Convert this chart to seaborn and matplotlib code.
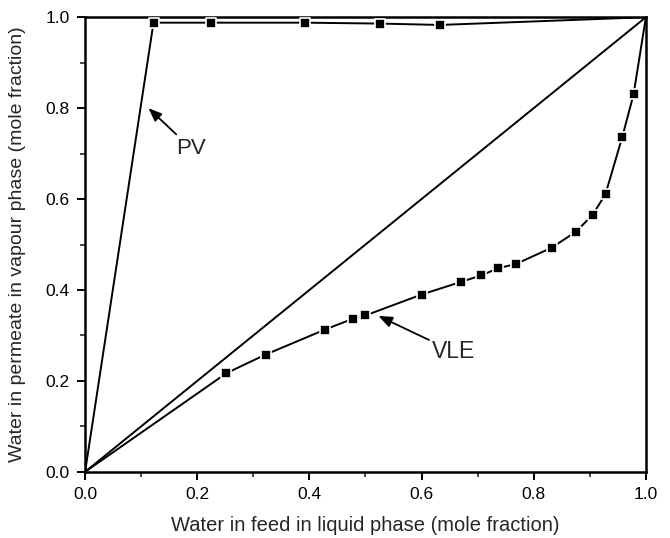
import matplotlib
matplotlib.use("Agg")
import matplotlib.pyplot as plt
import seaborn as sns
import pandas as pd

# Vapour-liquid equilibrium data (water in liquid vs water in vapour)
vle_x = [0.252, 0.322, 0.428, 0.478, 0.500, 0.600, 0.671, 0.706, 0.737, 0.768,
         0.832, 0.875, 0.905, 0.928, 0.958, 0.978]
vle_y = [0.217, 0.258, 0.313, 0.337, 0.344, 0.390, 0.418, 0.432, 0.448, 0.457,
         0.493, 0.528, 0.565, 0.611, 0.737, 0.830]

# Pervaporation data (water in feed vs water in permeate)
pv_x = [0.122, 0.224, 0.392, 0.526, 0.633]
pv_y = [0.988, 0.988, 0.988, 0.986, 0.983]

# Curves are anchored at the pure-component end points
ends_x = [0.0, 1.0]
ends_y = [0.0, 1.0]

x_ticks = [0.0, 0.2, 0.4, 0.6, 0.8, 1.0]
y_ticks = [0.0, 0.2, 0.4, 0.6, 0.8, 1.0]

sns.set_theme(style="ticks")
plt.rcParams["font.family"] = ["Liberation Sans", "DejaVu Sans"]

fig = plt.figure(figsize=(6.7, 5.38), dpi=100)
ax = fig.add_axes([0.127, 0.123, 0.837, 0.845])

vle = pd.DataFrame({"x": [ends_x[0]] + vle_x + [ends_x[1]],
                    "y": [ends_y[0]] + vle_y + [ends_y[1]]})
pv = pd.DataFrame({"x": [ends_x[0]] + pv_x + [ends_x[1]],
                   "y": [ends_y[0]] + pv_y + [ends_y[1]]})
diag = pd.DataFrame({"x": ends_x, "y": ends_y})

sns.lineplot(data=diag, x="x", y="y", ax=ax, color="black", lw=1.4, sort=False)
sns.lineplot(data=vle, x="x", y="y", ax=ax, color="black", lw=1.4, sort=False,
             estimator=None)
sns.lineplot(data=pv, x="x", y="y", ax=ax, color="black", lw=1.4, sort=False,
             estimator=None)

marks = pd.DataFrame({"x": vle_x + pv_x, "y": vle_y + pv_y})
sns.scatterplot(data=marks, x="x", y="y", ax=ax, marker="s", s=62,
                color="black", edgecolor="white", linewidth=1.2, zorder=5)

arrow = dict(arrowstyle="-|>,head_length=0.5,head_width=0.2", color="black",
             lw=1.3, shrinkA=0, shrinkB=0)
ax.annotate("PV", xy=(0.113, 0.800), xytext=(0.162, 0.712), fontsize=16,
            arrowprops=arrow, ha="left", va="center")
ax.annotate("VLE", xy=(0.523, 0.343), xytext=(0.619, 0.264), fontsize=16.5,
            arrowprops=arrow, ha="left", va="center")

ax.set_xlim(0, 1.0)
ax.set_ylim(0, 1.0)
ax.set_xticks(x_ticks)
ax.set_yticks(y_ticks)
ax.set_xticklabels([f"{t:.1f}" for t in x_ticks])
ax.set_yticklabels([f"{t:.1f}" for t in y_ticks])
ax.set_xticks([0.1, 0.3, 0.5, 0.7, 0.9], minor=True)
ax.set_yticks([0.1, 0.3, 0.5, 0.7, 0.9], minor=True)
ax.tick_params(which="major", direction="out", length=6, width=1.4, pad=5,
               labelsize=12.5, colors="black", top=False, right=False)
ax.tick_params(which="minor", direction="out", length=3.5, width=1.2,
               top=False, right=False)

for side in ["left", "right", "top", "bottom"]:
    ax.spines[side].set_visible(True)
    ax.spines[side].set_linewidth(1.8)
    ax.spines[side].set_color("black")

ax.set_xlabel("Water in feed in liquid phase (mole fraction)", fontsize=14.5,
              labelpad=10)
ax.set_ylabel("Water in permeate in vapour phase (mole fraction)", fontsize=14,
              labelpad=14)

fig.savefig("out.png", dpi=100, facecolor="white")
